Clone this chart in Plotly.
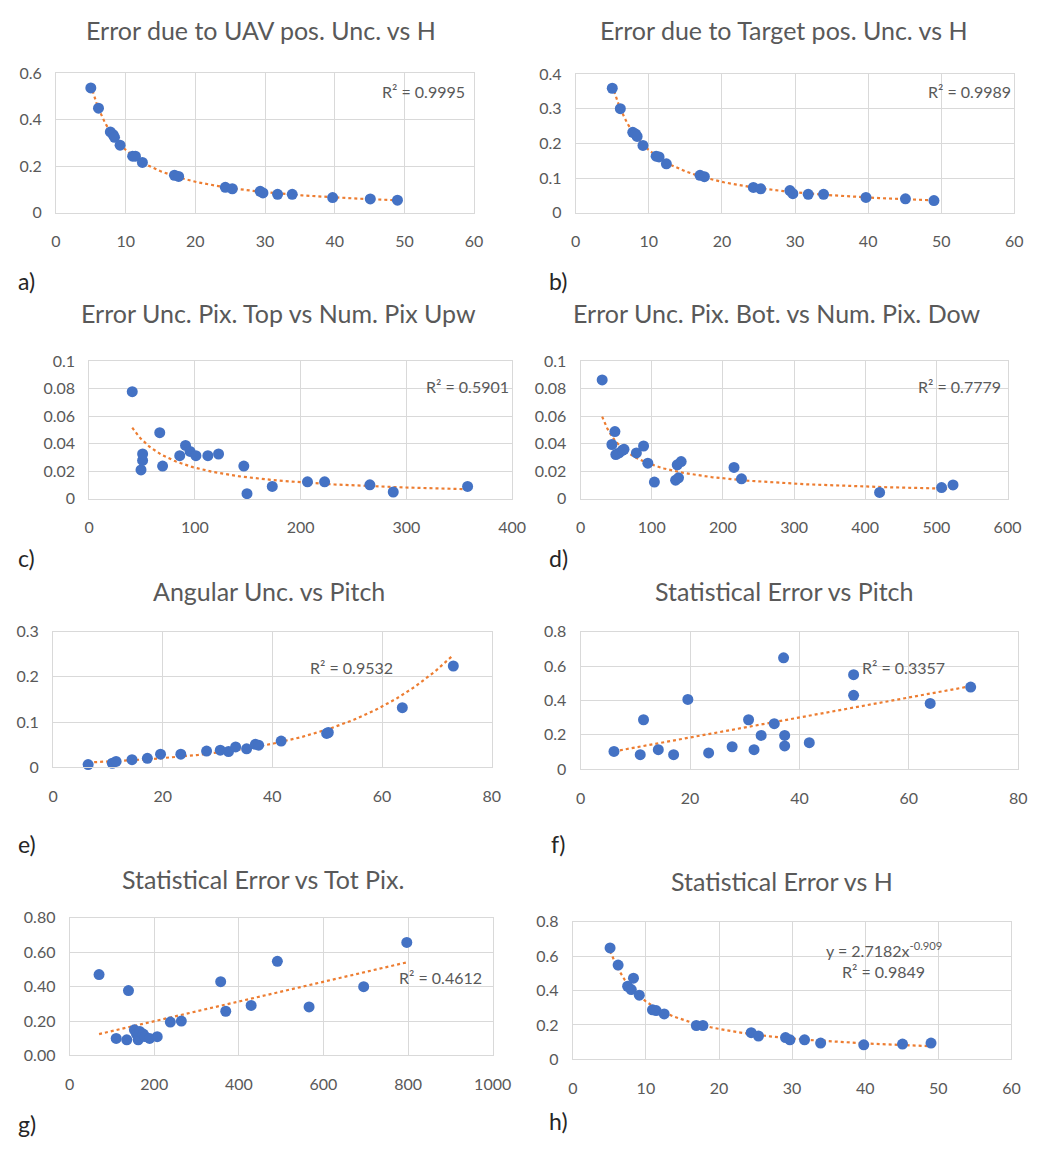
import numpy as np
import plotly.graph_objects as go

# screenshot size and default page margin of the html body
SW, SH = 1049, 1151
OFF = 8
W, H = SW - OFF, SH - OFF

# ---------------- data ----------------
H_ab = [5.0, 6.1, 7.8, 8.2, 8.4, 9.2, 11.0, 11.4, 12.4, 17.0, 17.6, 24.3, 25.3, 29.3, 29.7, 31.8, 33.9, 39.7, 45.1, 49.0]
err_uav = [0.536, 0.449, 0.347, 0.335, 0.324, 0.290, 0.243, 0.243, 0.216, 0.161, 0.156, 0.109, 0.103, 0.092, 0.085, 0.079, 0.079, 0.065, 0.059, 0.054]
err_target = [0.359, 0.300, 0.232, 0.227, 0.220, 0.194, 0.163, 0.161, 0.141, 0.108, 0.104, 0.073, 0.069, 0.064, 0.055, 0.053, 0.053, 0.044, 0.040, 0.035]

pix_up = [40.7, 49.0, 50.5, 50.5, 66.7, 69.4, 85.6, 91.1, 95.4, 100.9, 112.2, 122.3, 146.2, 149.2, 173.1, 206.4, 222.6, 265.4, 287.5, 357.8]
err_top = [0.0779, 0.0210, 0.0279, 0.0326, 0.0481, 0.0238, 0.0314, 0.0388, 0.0345, 0.0314, 0.0314, 0.0326, 0.0238, 0.0038, 0.0090, 0.0124, 0.0124, 0.0102, 0.0050, 0.0090]

pix_down = [30.3, 44.0, 48.2, 49.5, 54.1, 58.7, 61.0, 78.4, 88.5, 94.5, 103.7, 133.5, 135.8, 137.6, 141.3, 215.6, 226.1, 420.2, 507.3, 523.4]
err_bot = [0.0864, 0.0395, 0.0489, 0.0322, 0.0334, 0.0353, 0.0360, 0.0334, 0.0384, 0.0259, 0.0122, 0.0136, 0.0247, 0.0153, 0.0271, 0.0228, 0.0146, 0.0047, 0.0082, 0.0101]

pitch_e = [6.4, 10.8, 11.5, 14.4, 17.2, 19.6, 23.3, 28.0, 30.5, 32.0, 33.3, 35.3, 36.9, 37.5, 41.6, 49.9, 50.2, 63.7, 73.0]
ang_unc = [0.006, 0.009, 0.013, 0.017, 0.020, 0.029, 0.029, 0.036, 0.038, 0.035, 0.045, 0.041, 0.051, 0.049, 0.058, 0.075, 0.077, 0.132, 0.224]

pitch_f = [6.1, 10.9, 11.5, 14.2, 17.0, 19.6, 23.4, 27.7, 30.7, 31.7, 33.0, 35.4, 37.1, 37.3, 37.3, 41.8, 49.9, 49.9, 63.9, 71.3]
stat_err_pitch = [0.104, 0.085, 0.288, 0.114, 0.085, 0.406, 0.095, 0.131, 0.288, 0.114, 0.197, 0.265, 0.648, 0.197, 0.136, 0.155, 0.550, 0.430, 0.383, 0.478]

tot_pix = [69.5, 110, 135, 139, 153, 158, 162, 166, 174, 178, 189, 207, 238, 264, 357, 369, 429, 491, 566, 695, 797]
stat_err_pix = [0.470, 0.099, 0.091, 0.377, 0.149, 0.124, 0.091, 0.139, 0.124, 0.110, 0.099, 0.109, 0.194, 0.200, 0.429, 0.257, 0.291, 0.547, 0.282, 0.400, 0.657]

H_h = [5.1, 6.2, 7.5, 8.0, 8.3, 9.1, 10.9, 11.4, 12.5, 16.9, 17.8, 24.4, 25.4, 29.1, 29.7, 31.7, 33.9, 39.8, 45.1, 49.0]
stat_err_h = [0.648, 0.548, 0.425, 0.406, 0.472, 0.373, 0.288, 0.284, 0.264, 0.197, 0.197, 0.155, 0.136, 0.127, 0.114, 0.114, 0.095, 0.085, 0.089, 0.095]

titles = ["Error due to UAV pos. Unc. vs H", "Error due to Target pos. Unc. vs H",
          "Error Unc. Pix. Top vs Num. Pix Upw", "Error Unc. Pix. Bot. vs Num. Pix. Dow",
          "Angular Unc. vs Pitch", "Statistical Error vs Pitch",
          "Statistical Error vs Tot Pix.", "Statistical Error vs H"]
panel_labels = ["a)", "b)", "c)", "d)", "e)", "f)", "g)", "h)"]
r2_texts = ["R² = 0.9995", "R² = 0.9989", "R² = 0.5901", "R² = 0.7779",
            "R² = 0.9532", "R² = 0.3357", "R² = 0.4612", "R² = 0.9849"]
eq_text_h = "y = 2.7182x<sup>-0.909</sup>"

# ---------------- layout geometry (screen pixels) ----------------
panels = [
    dict(x=H_ab, y=err_uav, box=(52, 480, 64, 206), xr=[0, 60], xd=10, yr=[0, 0.6], yd=0.2, fit="power",
         title_xy=(262, 20), lab_xy=(22, 275), r2_xy=(428, 83)),
    dict(x=H_ab, y=err_target, box=(584, 1033, 65, 206), xr=[0, 60], xd=10, yr=[0, 0.4], yd=0.1, fit="power",
         title_xy=(797, 20), lab_xy=(566, 275), r2_xy=(987, 83)),
    dict(x=pix_up, y=err_top, box=(86, 519, 357, 497), xr=[0, 400], xd=100, yr=[0, 0.1], yd=0.02, fit="power",
         title_xy=(280, 308), lab_xy=(22, 557), r2_xy=(473, 383)),
    dict(x=pix_down, y=err_bot, box=(589, 1026, 357, 497), xr=[0, 600], xd=100, yr=[0, 0.1], yd=0.02, fit="power",
         title_xy=(790, 308), lab_xy=(566, 557), r2_xy=(977, 383)),
    dict(x=pitch_e, y=ang_unc, box=(49, 498, 632, 770), xr=[0, 80], xd=20, yr=[0, 0.3], yd=0.1, fit="exp",
         title_xy=(270, 591), lab_xy=(22, 848), r2_xy=(354, 668)),
    dict(x=pitch_f, y=stat_err_pitch, box=(589, 1037, 632, 772), xr=[0, 80], xd=20, yr=[0, 0.8], yd=0.2, fit="lin",
         title_xy=(797, 591), lab_xy=(566, 848), r2_xy=(920, 668)),
    dict(x=tot_pix, y=stat_err_pix, box=(66, 499, 923, 1063), xr=[0, 1000], xd=200, yr=[0, 0.8], yd=0.2, fit="lin",
         title_xy=(264, 884), lab_xy=(22, 1133), r2_xy=(446, 984), yfmt=".2f"),
    dict(x=H_h, y=stat_err_h, box=(581, 1030, 927, 1067), xr=[0, 60], xd=10, yr=[0, 0.8], yd=0.2, fit="power",
         title_xy=(795, 886), lab_xy=(566, 1130), r2_xy=(899, 978)),
]

BLUE = "#4472C4"
ORANGE = "#ED7D31"
GRID = "#d9d9d9"
TXT = "#595959"
FONT = "Lato"


def px(x):
    return (x - OFF) / W


def py(y):
    return 1 - (y - OFF) / H


def trend(xs, ys, kind):
    xs = np.asarray(xs, float)
    ys = np.asarray(ys, float)
    xx = np.linspace(xs.min(), xs.max(), 200)
    if kind == "power":
        b, a = np.polyfit(np.log(xs), np.log(ys), 1)
        yy = np.exp(a) * xx ** b
    elif kind == "exp":
        b, a = np.polyfit(xs, np.log(ys), 1)
        yy = np.exp(a) * np.exp(b * xx)
    else:
        b, a = np.polyfit(xs, ys, 1)
        yy = a + b * xx
    return xx, yy


fig = go.Figure()
annotations = []
for i, p in enumerate(panels):
    n = i + 1
    xa = "x" if n == 1 else f"x{n}"
    ya = "y" if n == 1 else f"y{n}"
    l, r, t, b = p["box"]
    tx, ty = trend(p["x"], p["y"], p["fit"])
    fig.add_trace(go.Scatter(x=tx, y=ty, mode="lines", xaxis=xa, yaxis=ya,
                             line=dict(color=ORANGE, width=2.2, dash="dot"),
                             hoverinfo="skip", showlegend=False))
    fig.add_trace(go.Scatter(x=p["x"], y=p["y"], mode="markers", xaxis=xa, yaxis=ya,
                             marker=dict(color=BLUE, size=11, line=dict(width=0)),
                             cliponaxis=False, showlegend=False))
    xkey = "xaxis" if n == 1 else f"xaxis{n}"
    ykey = "yaxis" if n == 1 else f"yaxis{n}"
    fig.layout[xkey] = dict(domain=[px(l), px(r)], anchor=ya, range=p["xr"], dtick=p["xd"], tick0=0,
                            showgrid=True, gridcolor=GRID, gridwidth=1, zeroline=False,
                            showline=True, linecolor=GRID, mirror=True,
                            ticks="outside", ticklen=14, tickcolor="rgba(0,0,0,0)",
                            tickfont=dict(family=FONT, size=16, color=TXT), fixedrange=True)
    fig.layout[ykey] = dict(domain=[py(b), py(t)], anchor=xa, range=p["yr"], dtick=p["yd"], tick0=0,
                            showgrid=True, gridcolor=GRID, gridwidth=1, zeroline=False,
                            showline=True, linecolor=GRID, mirror=True,
                            ticks="outside", ticklen=10, tickcolor="rgba(0,0,0,0)",
                            tickformat=p.get("yfmt", ""),
                            tickfont=dict(family=FONT, size=16, color=TXT), fixedrange=True)
    annotations.append(dict(text=titles[i], x=px(p["title_xy"][0]), y=py(p["title_xy"][1]),
                            xref="paper", yref="paper", showarrow=False, xanchor="center", yanchor="middle",
                            font=dict(family=FONT, size=25, color=TXT)))
    annotations.append(dict(text=panel_labels[i], x=px(p["lab_xy"][0]), y=py(p["lab_xy"][1]),
                            xref="paper", yref="paper", showarrow=False, xanchor="center", yanchor="middle",
                            font=dict(family=FONT, size=23, color="#262626")))
    annotations.append(dict(text=r2_texts[i], x=px(p["r2_xy"][0]), y=py(p["r2_xy"][1]),
                            xref="paper", yref="paper", showarrow=False, xanchor="center", yanchor="middle",
                            font=dict(family=FONT, size=16, color=TXT)))

annotations.append(dict(text=eq_text_h, x=px(900), y=py(955), xref="paper", yref="paper",
                        showarrow=False, xanchor="center", yanchor="middle",
                        font=dict(family=FONT, size=16, color=TXT)))

fig.update_layout(width=W, height=H, margin=dict(l=0, r=0, t=0, b=0),
                  paper_bgcolor="white", plot_bgcolor="white",
                  annotations=annotations, showlegend=False)

fig.write_html("out.html")
